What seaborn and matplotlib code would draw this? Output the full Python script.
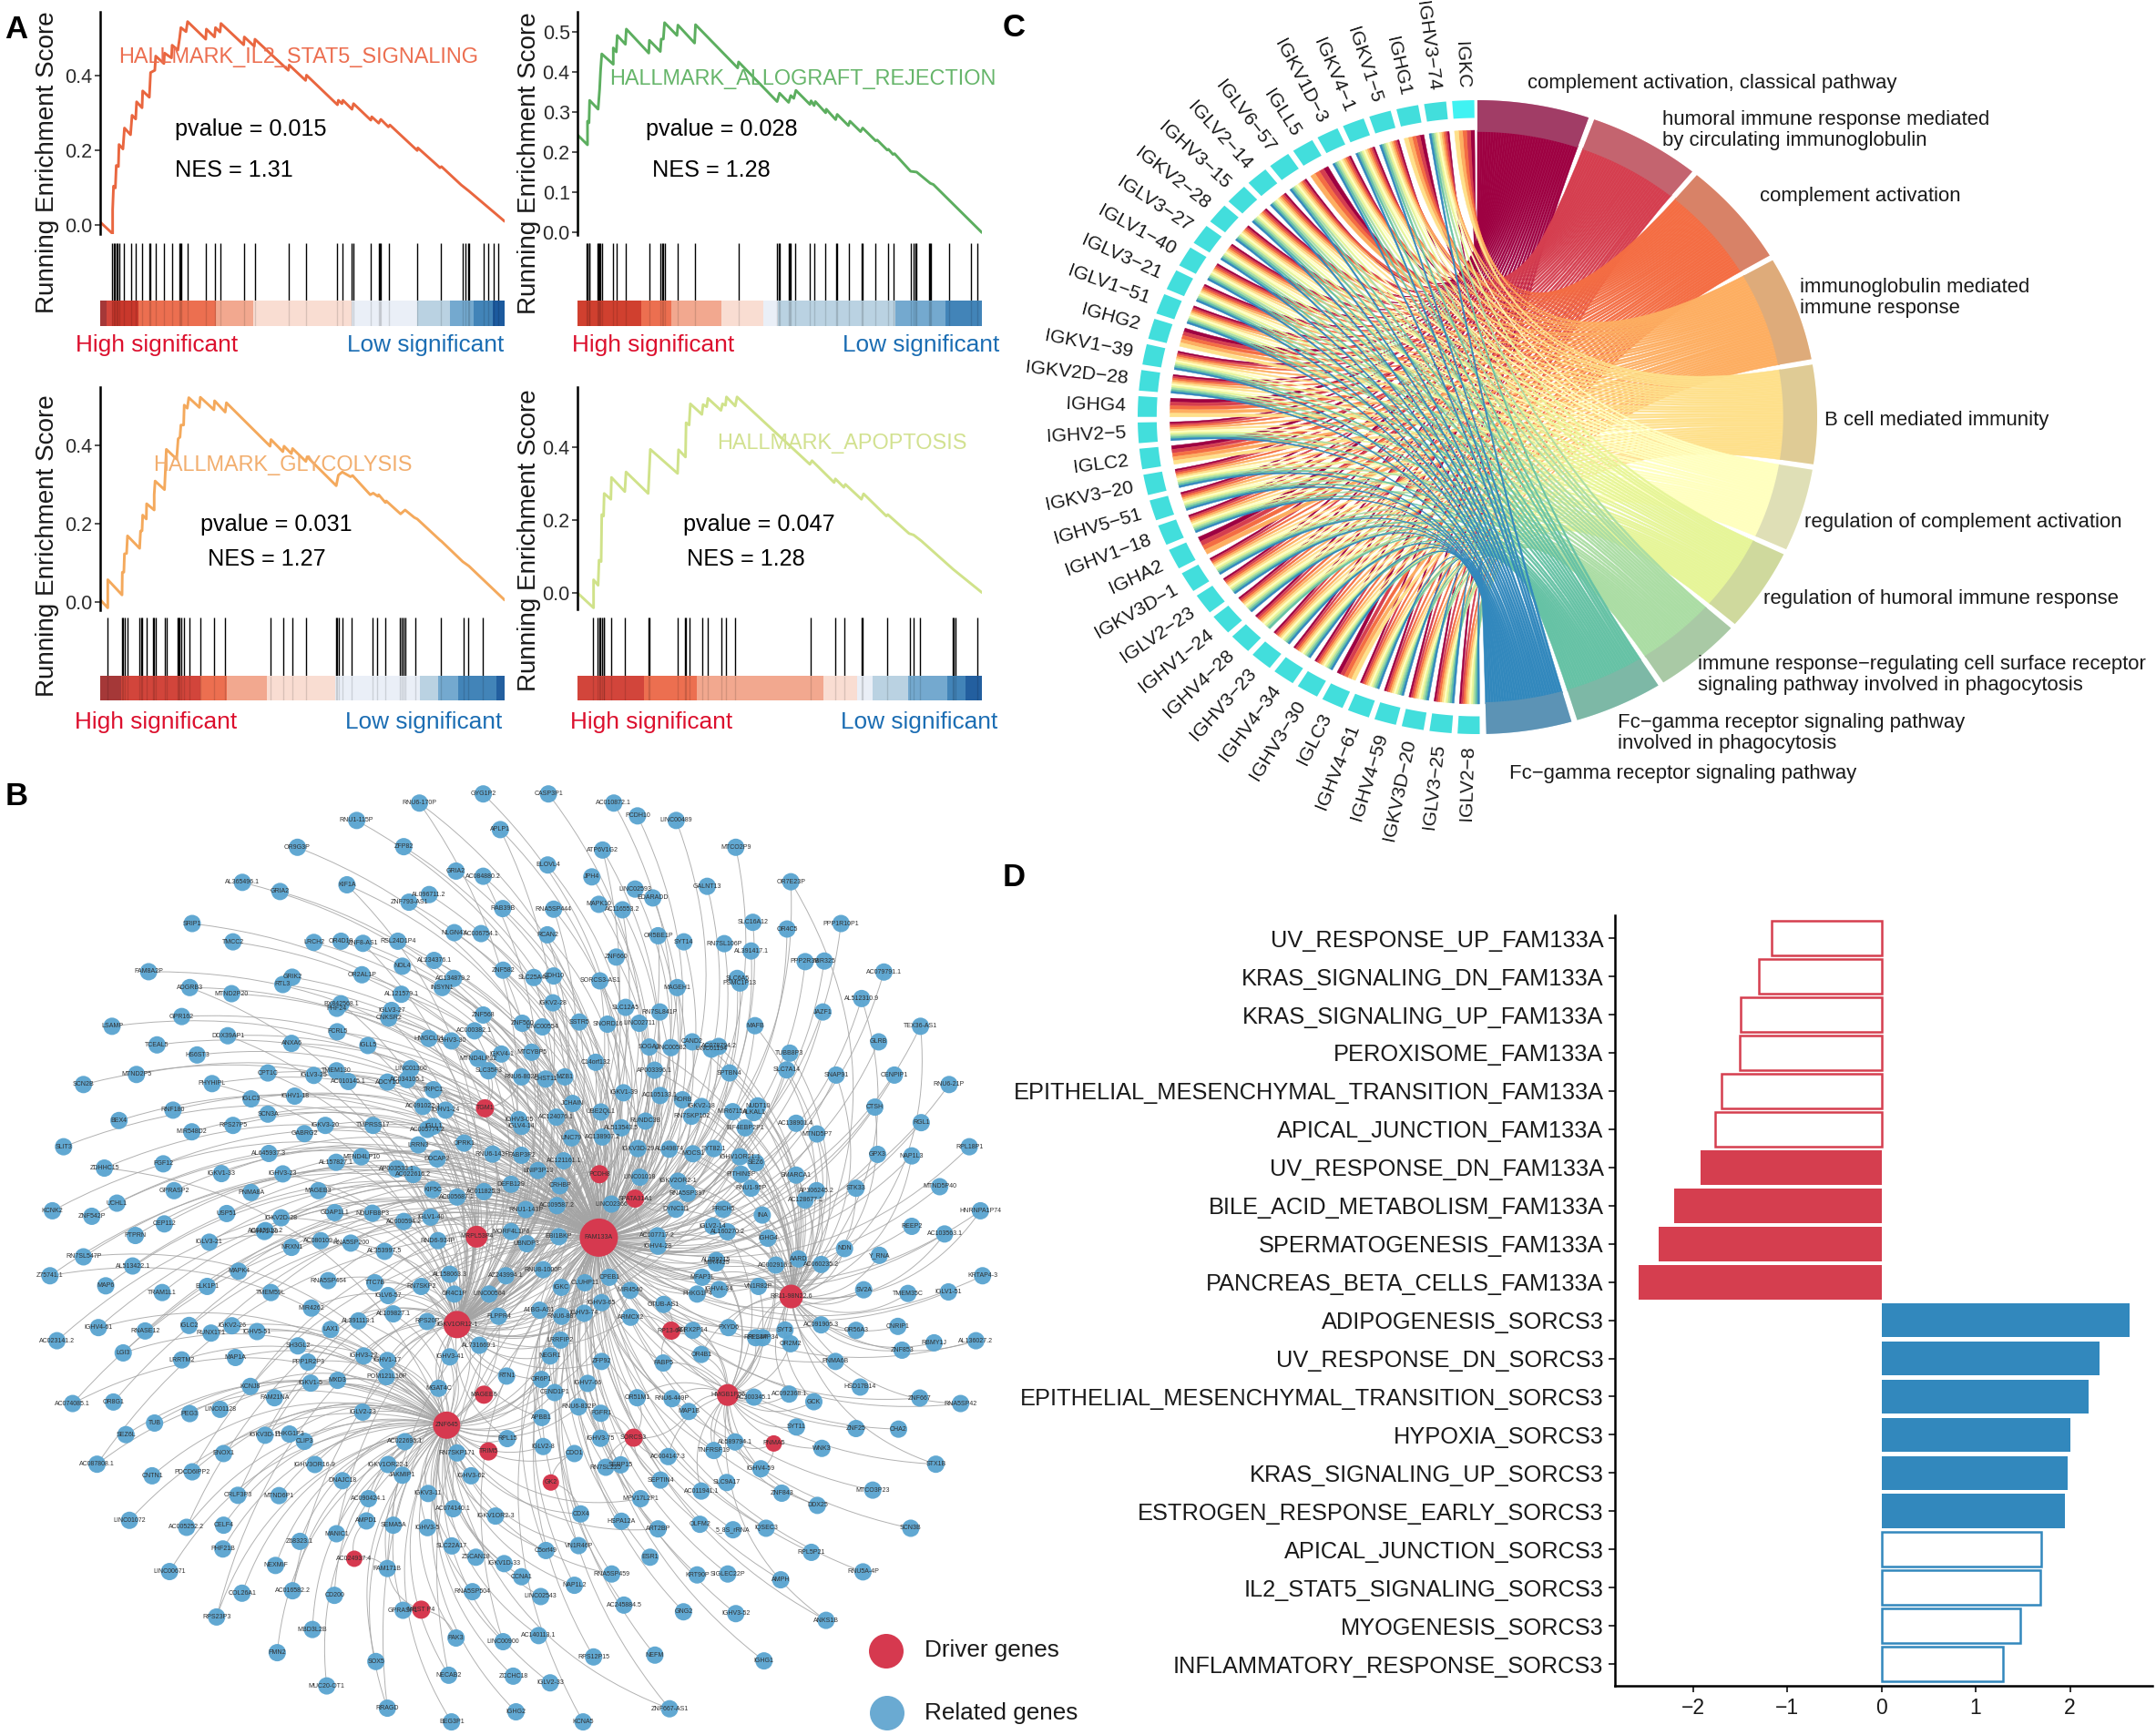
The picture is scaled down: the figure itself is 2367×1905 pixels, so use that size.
import numpy as np, pandas as pd
import matplotlib
matplotlib.use("Agg")
import matplotlib.pyplot as plt
from matplotlib.path import Path
from matplotlib.patches import PathPatch
from matplotlib.collections import LineCollection
import seaborn as sns

W, H = 2367, 1905
sns.set_theme(style="white")
plt.rcParams['font.family'] = ['Liberation Sans', 'DejaVu Sans']

# ---------- Panel A data ----------
p1_rank = [0,41,41,44,50,53,60,62,75,80,100,105,117,120,138,140,162,166,180,183,210,212,235,237,256,262,266,283,288,348,350,377,380,395,398,473,475,508,510,620,623,677,680,782,785,797,800,830,835,892,895,918,925,950,955,1045,1047,1120,1125,1190,1215,1333]
p1_es = [.008,-.023,.041,.104,.099,.159,.156,.215,.203,.259,.241,.293,.283,.329,.313,.358,.341,.407,.413,.451,.431,.459,.446,.480,.467,.500,.527,.516,.543,.496,.523,.502,.527,.515,.538,.481,.502,.477,.496,.413,.427,.386,.400,.321,.333,.324,.333,.309,.324,.280,.289,.272,.282,.262,.267,.199,.206,.153,.156,.107,.091,.010]
p1_hits = [40,44,48,53,58,62,78,102,117,138,162,166,182,210,236,260,263,266,288,348,377,396,473,510,621,678,782,800,830,835,893,918,923,926,953,1045,1123,1195,1205,1212,1217,1264,1280,1298,1312]
p1_bins = [0,20,40,125,380,505,828,1045,1152,1230,1295,1333]
p1_cols = ['#A53838','#D2453B','#C9382C','#EC6F50','#F2A88F','#F9DDD2','#EAEFF7','#BAD2E2','#74A9CF','#4284B8','#1C5A9E']

p2_rank = [0,0,33,33,38,40,68,73,76,80,118,118,128,131,158,161,235,237,273,276,283,287,328,331,386,389,528,531,658,666,696,703,713,720,766,770,780,784,818,820,851,856,893,898,933,940,983,988,1021,1025,1040,1045,1098,1118,1163,1173,1333]
p2_es = [0,.244,.219,.278,.274,.330,.308,.358,.403,.446,.420,.461,.451,.492,.470,.508,.448,.480,.452,.483,.483,.524,.492,.518,.473,.519,.411,.426,.327,.348,.325,.342,.335,.355,.320,.329,.317,.327,.299,.308,.282,.295,.267,.278,.252,.261,.229,.231,.206,.208,.195,.197,.153,.151,.123,.120,0]
p2_hits = [30,34,38,40,66,70,73,76,80,116,130,159,236,273,278,283,288,330,386,531,658,662,666,696,701,704,718,766,781,818,853,856,896,936,940,983,1023,1041,1100,1108,1113,1118,1158,1163,1166,1224,1296,1317]
p2_bins = [0,210,308,474,613,660,1048,1213,1333]
p2_cols = ['#D0402F','#EC6F50','#F2A88F','#F9DDD2','#EAEFF7','#BAD2E2','#74A9CF','#4284B8']

p3_rank = [0,25,25,72,73,78,80,87,90,130,133,138,140,152,153,178,178,181,212,218,252,257,263,266,275,277,287,292,327,330,375,377,412,416,560,563,602,606,630,634,678,682,778,785,798,825,832,890,900,915,918,940,943,990,1005,1035,1045,1120,1125,1195,1215,1333]
p3_es = [.005,-.016,.056,.017,.075,.075,.122,.123,.168,.136,.180,.181,.221,.211,.250,.234,.273,.308,.286,.389,.364,.416,.420,.451,.451,.502,.494,.521,.496,.522,.490,.513,.484,.508,.397,.414,.383,.397,.378,.391,.358,.370,.296,.323,.331,.319,.322,.273,.277,.269,.273,.253,.257,.224,.234,.215,.211,.157,.154,.102,.091,.004]
p3_hits = [25,72,76,80,90,130,134,138,153,174,178,182,213,218,254,258,262,266,277,295,329,375,412,561,604,632,680,778,782,787,800,828,897,914,941,988,995,1000,1005,1038,1123,1198,1212,1262]
p3_bins = [0,70,330,418,550,775,1055,1115,1180,1307,1333]
p3_cols = ['#A53838','#D2453B','#EC6F50','#F2A88F','#F9DDD2','#EAEFF7','#BAD2E2','#74A9CF','#4284B8','#235F9F']

p4_rank = [0,53,53,68,71,78,80,86,88,110,112,156,160,233,240,330,333,356,358,368,372,410,414,426,430,473,478,488,491,520,526,766,773,846,850,878,883,936,943,1018,1023,1093,1108,1133,1238,1333]
p4_es = [0,-.041,.036,.021,.090,.086,.215,.211,.273,.257,.317,.278,.332,.273,.394,.328,.393,.373,.467,.461,.519,.490,.517,.511,.534,.501,.519,.515,.538,.513,.538,.353,.363,.303,.313,.290,.298,.257,.272,.211,.215,.163,.159,.143,.065,.001]
p4_hits = [51,66,71,76,80,86,88,110,157,233,238,330,355,358,370,410,428,473,489,520,768,849,881,938,941,1020,1095,1108,1130,1237,1241,1245,1318]
p4_bins = [0,220,394,810,923,973,1091,1220,1278,1333]
p4_cols = ['#D2453B','#EC6F50','#F2A88F','#F9DDD2','#EAEFF7','#BAD2E2','#74A9CF','#4284B8','#235F9F']

# ---------- Panel D data ----------
pathways = ["UV_RESPONSE_UP_FAM133A","KRAS_SIGNALING_DN_FAM133A","KRAS_SIGNALING_UP_FAM133A","PEROXISOME_FAM133A",
 "EPITHELIAL_MESENCHYMAL_TRANSITION_FAM133A","APICAL_JUNCTION_FAM133A","UV_RESPONSE_DN_FAM133A","BILE_ACID_METABOLISM_FAM133A",
 "SPERMATOGENESIS_FAM133A","PANCREAS_BETA_CELLS_FAM133A","ADIPOGENESIS_SORCS3","UV_RESPONSE_DN_SORCS3",
 "EPITHELIAL_MESENCHYMAL_TRANSITION_SORCS3","HYPOXIA_SORCS3","KRAS_SIGNALING_UP_SORCS3","ESTROGEN_RESPONSE_EARLY_SORCS3",
 "APICAL_JUNCTION_SORCS3","IL2_STAT5_SIGNALING_SORCS3","MYOGENESIS_SORCS3","INFLAMMATORY_RESPONSE_SORCS3"]
nes_values = [-1.17,-1.30,-1.50,-1.51,-1.70,-1.77,-1.92,-2.20,-2.37,-2.58,2.63,2.31,2.20,2.00,1.98,1.95,1.70,1.69,1.47,1.29]
significant = [0,0,0,0,0,0,1,1,1,1,1,1,1,1,1,1,0,0,0,0]

# ---------- Panel C data ----------
gene_names = ["IGKC","IGHV3\u221274","IGHG1","IGKV1\u22125","IGKV4\u22121","IGKV1D\u22123","IGLL5","IGLV6\u221257","IGLV2\u221214","IGHV3\u221215","IGKV2\u221228","IGLV3\u221227","IGLV1\u221240","IGLV3\u221221","IGLV1\u221251","IGHG2","IGKV1\u221239","IGKV2D\u221228","IGHG4","IGHV2\u22125","IGLC2","IGKV3\u221220","IGHV5\u221251","IGHV1\u221218","IGHA2","IGKV3D\u22121","IGLV2\u221223","IGHV1\u221224","IGHV4\u221228","IGHV3\u221223","IGHV4\u221234","IGHV3\u221230","IGLC3","IGHV4\u221261","IGHV4\u221259","IGKV3D\u221220","IGLV3\u221225","IGLV2\u22128"]
term_colors = ['#9E0142','#D53E4F','#F46D43','#FDAE61','#FEE08B','#FFFFBF','#E6F598','#ABDDA4','#66C2A5','#3288BD']
constant_genes = ["IGKC","IGHG1","IGLL5","IGHG2","IGHG4","IGLC2","IGHA2","IGLC3"]
absent_term5 = ["IGLL5","IGHA2"]
absent_term10 = ["IGHV4\u221228"]

# ---------- Panel B data (layout, four views) ----------
nw = [("RNU6-170P",1125,65),("GYG1P2",1308,35),("CASP3P1",1495,35),("RNU1-115P",945,122),("APLP1",1357,152),("OR9G3P",775,210),("ZFP82",1080,208),("GRIA2",1230,288),("AC084880.2",1308,305),("ELOVL4",1493,268),("AL365496.1",617,325),("GRIA2",725,355),("KIF1A",917,333),("AL096711.2",1153,365),("ZNF793-AS1",1095,390),("RAB39B",1364,411),("RNA5SP444",1510,413),("SRIP1",473,460),("NLGN4X",1225,490),("AC006754.1",1302,493),("RCAN2",1492,497),("TMCC2",590,520),("LRCH2",822,522),("OR4D10",900,518),("ZNF8-AS1",963,525),("RSL24D1P4",1063,518),("AL234376.1",1167,581),("NOL4",1076,600),("ZNF582",1365,613),("SLC25A48",1453,637),("OR2AL1P",960,628),("AC134879.2",1223,640),("CDH10",1510,632),("FAM8A2P",348,618),("GRIK2",760,636),("RTL3",733,660),("ADGRB3",466,670),("MTND2P20",586,690),("AL121579.1",1073,692),("INSYN1",1190,670),("BX842568.1",900,723),("PHF24",888,738),("IGKV2-28",1508,720),("IGLV3-27",1045,745),("CNKSR2",1037,770),("ZNF568",1308,760),("GPR162",443,765),("LSAMP",243,797),("ZNF560",1420,787),("LINC00554",1478,799),("AC000382.1",1283,812),("FCRL5",889,815),("DDX39AP1",575,828),("ANXA6",758,853),("HMGCLL1",1152,837),("IGHV3-30",1217,845),("IGLL5",977,860),("TCEAL5",372,858),("HS6ST3",487,891),("IGKV4-1",1360,888),("MTCYBP5",1447,882),("MTND4LP32",1293,903),("TMEM130",887,943),("LINC01300",1100,936),("SLC35F3",1323,943),("RNU6-802P",1418,963),("CHST11",1487,970),("MZB1",1542,963),("CPT1C",690,950),("MTND2P5",313,955),("IGLV3-25",822,958),("SCN2B",161,988),("PHYHIPL",530,985),("AC010145.1",921,978),("ADCY10",1033,980),("AC034105.1",1090,972),("TRPC1",1165,1005),("IGHV1-18",767,1026),("IGLC3",642,1035),("AC091022.1",1135,1060),("IGHV1-24",1200,1072),("RNF180",418,1072),("SCN3A",690,1085),("BEX4",263,1106),("IGHV3-05",1410,1103),("AC124076.1",1518,1095),("RPS27P5",590,1122),("IGKV3-20",855,1122),("TMPRSS17",992,1122),("MIR548D2",472,1143),("AC005774.2",1148,1135),("IGLL1",1165,1125),("IGLV4-14",1418,1125),("GABRG2",795,1149),("SLIT3",104,1192),("LRRN3",1122,1186),("OPRK1",1253,1180),("RNU6-143P",1335,1216),("FABP3P2",1418,1220),("AL645937.3",693,1214),("ZDHHC15",221,1262),("FGF12",390,1248),("AL157827.1",886,1243),("MTND4LP10",958,1225),("DDCAP2",1176,1232),("AP003533.1",1060,1265),("BNIP3P13",1465,1270),("IGKV1-33",557,1280),("IGHV3-23",733,1281),("AC022616.2",1107,1283),("GPRASP2",421,1336),("PNMA8A",642,1342),("MAGEB3",835,1336),("KIF5C",1163,1333),("DEFB129",1388,1315),("AC011825.3",1310,1339),("AC005687.1",1233,1357),("KCNK2",72,1402),("UCHL1",257,1377),("ZNF542P",185,1420),("RNU1-143P",1430,1398),("USP51",572,1411),("GDAP1L1",882,1408),("NDUFB8P3",990,1410),("IGKV2D-28",728,1425),("AC000594.2",1080,1437),("IGLV1-40",1157,1423),("CEP112",393,1445),("MORF4L1P6",1388,1470),("PTPRN",310,1483),("AC015912.2",683,1467),("IGHV1-29",680,1470),("IGLV3-21",522,1505),("NRXN1",758,1522),("AC080109.1",842,1500),("RNA5SP200",928,1508),("RND6-934P",1178,1500),("UBNDP3",1433,1510),("EBI1BKP",1525,1487),("AL353997.5",1025,1535),("RN7SL547P",161,1553)]
ne = [("AC010872.1",193,65),("PCDH10",261,107),("LINC00489",372,122),("ATP6V1G2",161,219),("MTCO2P9",543,210),("JPH4",130,307),("GALNT13",461,338),("OR7E23P",701,323),("LINC02593",254,347),("EDARADD",305,376),("MAPK10",150,397),("AC116553.2",218,415),("SLC16A12",592,456),("OR4C5",690,478),("PPP1R10P1",845,460),("OR5BE1P",320,500),("SYT14",394,520),("RN7SL106P",510,526),("AL391417.1",587,550),("ZNF660",200,570),("PPP2R3B",742,585),("MIR325",797,583),("AC079791.1",968,619),("SORCS3-AS1",153,648),("SLC6A5",547,640),("PSMC1P13",555,655),("MAGEH1",375,670),("AL512310.9",904,706),("SLC12A5",227,735),("RN7SL841P",325,750),("JAZF1",793,750),("SSTR5",94,783),("SNORD16",175,790),("LINC02711",266,787),("MAFB",598,795),("TEX36-AS1",1073,797),("CAND2",418,848),("GLRB",953,848),("SOGA3",295,865),("LINC00582",357,867),("AC078794.2",494,863),("LINC01194",473,872),("TUBB8P3",698,885),("C14orf132",141,915),("AP003396.1",310,941),("SPTBN4",525,950),("SLC7A14",689,940),("SNAP91",831,957),("CENPIP1",998,957),("RNU6-21P",1155,988),("IGKV1-39",221,1015),("AC105133.1",326,1024),("RORB",390,1038),("IGKV2-18",445,1060),("NUDT10",606,1058),("CTSH",942,1062),("MIR6715A",534,1077),("ALKAL1",595,1080),("JCHAIN",75,1050),("UBE2QL1",156,1078),("RN7SKP102",416,1092),("RUNDC3B",284,1108),("AL513543.5",215,1130),("AC138901.4",716,1115),("EIF4EBP2P1",570,1130),("RGL1",1075,1113),("UNC79",72,1163),("AC138907.2",160,1160),("MTND5P7",776,1150),("IGKV3D-29",262,1198),("AL049874",352,1200),("MOCS1",420,1215),("SYT82.1",480,1198),("RPL18P1",1213,1192),("GPX3",950,1217),("NAP1L3",1048,1222),("IGHV1OR21-1",555,1225),("SEZ6",601,1245),("AC121161.1",49,1238),("PITHINSP",558,1282),("SMARCA1",716,1285),("LINC01018",268,1292),("IGKV2OR2-1",377,1305),("RNU1-95P",587,1328),("STK33",888,1328),("AP306245.2",775,1336),("MTND5P40",1128,1323),("CRHBP",38,1320),("RNA5SP397",405,1345),("AC128677.1",742,1367),("LINC02366",186,1380),("AC009587.2",30,1385),("DYNC1I1",371,1397),("FRICH5",507,1397),("INA",619,1416),("HNRNPA1P74",1245,1402),("REEP2",1048,1453),("IGLV2-14",477,1452),("AL160270.2",519,1471),("AC103563.1",1142,1478),("AC007717.2",318,1484),("IGHV4-28",320,1518),("IGHG4",635,1492),("NDN",855,1526),("Y_RNA",955,1548),("AARD",723,1560),("AL359215",487,1565)]
sw = [("Z75741.1",65,62),("AL513422.1",302,30),("MAP6",225,95),("MAPK4",606,47),("RNA5SP464",863,78),("TMEM59L",699,117),("ELK1P1",516,97),("TRAM1L1",387,117),("TTC7B",997,85),("RN7SKP2",1130,97),("IGLV6-57",1035,127),("AL158063.3",1212,57),("AZ243994.1",1373,62),("OR4C1P",1225,122),("LINC00564",1325,122),("RNU8-1000P",1480,42),("IGKC",1532,100),("MIR4262",815,168),("AL109827.1",1050,187),("AL391113.1",950,210),("RPS20P",1147,212),("FLPPR4",1352,195),("A1BG-AS1",1470,175),("RNU6-887",1533,195),("IGHV4-61",204,232),("RNASE12",338,243),("IGLC2",464,225),("IGKV2-26",587,226),("RUNX1T1",527,250),("IGHV5-51",659,245),("LAX1",870,238),("AC023141.2",85,275),("LGI3",275,315),("LRRFIP2",1530,273),("SH3GL2",776,292),("AL731669.1",1297,290),("IGHV3-41",1212,328),("NEGR1",1500,325),("LRRTM2",443,338),("MAP1A",597,330),("IGHV3-22",965,325),("IGHV1-17",1033,340),("PPP1R2P3",805,345),("POM121L10P",1030,393),("MXD3",890,405),("IGKV1-5",813,414),("RTN1",1375,391),("OR6P1",1475,402),("KCNJ8",640,425),("MGAT4C",1180,431),("CEND1P1",1513,445),("FAM21NA",709,462),("AC074085.1",130,481),("OR8G1",247,476),("LINC01128",553,500),("PEG3",466,514),("IGLV2-23",962,509),("APBB1",1476,527),("TUB",365,545),("SEZ6L",283,583),("IGKV3D-11",682,585),("PHKG1P3",752,581),("CLIP3",795,605),("AC022695.1",1083,606),("RPL15",1377,596),("IGLV2-8",1480,622),("RN7SKP171",1233,643),("ENOX1",563,645),("AC087808.1",200,680),("IGHV3OR16-9",825,681),("IGKV1OR22-1",1035,681),("CNTN1",358,718),("PDCD6IPP2",473,705),("JAKMIP1",1076,716),("IGHV3-62",1273,718),("DNAJC18",904,734),("CRLF3P3",604,782),("MTND6P1",722,783),("IGKV3-11",1150,776),("AC090424.1",979,793),("AC074140.1",1222,826),("IGKV1OR2-3",1343,850),("LINC01072",293,864),("CELF4",563,880),("AC005252.2",457,887),("AMPD1",973,866),("SEMA5A",1050,880),("IGHV3-5",1148,888),("MANIC1",887,908),("Z68323.1",782,933),("SLC22A17",1218,948),("PHF21B",561,958),("C5orf49",1488,963),("ZSCAN18",1287,985),("IGKV1D-33",1368,1006),("NEXMIF",712,1012),("FAM171B",1033,1022),("LINC00671",408,1032),("CCNA1",1418,1049),("COL26A1",616,1103),("AC016582.2",761,1095),("CD200",881,1110),("RNA5SP504",1277,1098),("LINC02543",1473,1114),("RPS23P3",543,1181),("GPRASP1",1078,1159),("MBD3L2B",818,1222),("PAK3",1230,1250),("LINC00900",1365,1262),("AC140113.1",1467,1242),("FMN2",717,1298),("SOX5",1000,1327),("NECAB2",1209,1372),("ZCCHC18",1394,1375),("IGLV2-33",1500,1397),("MUC20-OT1",859,1407),("RRAGD",1033,1480),("IGHG2",1402,1492),("BEG3P1",1217,1525)]
se = [("MIR4425",487,20),("AC002916.1",658,27),("AC060235.2",788,25),("MFAP3L",447,67),("KRTAP4-3",1251,62),("IGHV4-34",495,107),("VN1R82P",608,97),("PHKG1P4",432,122),("CPEB1",180,67),("CLUHP11",110,85),("MIR4540",240,110),("TMEM35C",1037,120),("IGLV1-51",1153,115),("SV2A",910,108),("OTUB-AS1",336,156),("IGHV3-65",158,150),("ARMCX2",241,198),("IGHV3-74",108,185),("AC091905.3",788,223),("OR56A3",888,241),("CNRIP1",1008,228),("PXYD6",522,232),("ATRX2P14",420,241),("SYT3",684,240),("RPL34P",600,265),("RPL34P34",620,265),("OR2M2",700,285),("ZNF853",1020,306),("RBMY1J",1112,282),("AL136027.2",1232,275),("OR4B1",444,320),("ZFP92",158,343),("FABP5",335,348),("PNMA6B",829,343),("HSD17B14",900,427),("IGHV7-66",118,415),("ZNF667",1071,463),("RNA5SP42",1188,481),("OR51M1",260,462),("RNU6-449P",360,465),("AC092368.1",696,450),("AC300345.1",595,460),("GCK",767,475),("RNU6-832P",92,492),("MAP1B",408,507),("FGFR1",156,513),("SYT11",717,558),("ZNF25",888,563),("CHA2",1010,565),("IGHV3-75",155,595),("AL589794.1",541,607),("TNFRSF19",480,635),("WNK3",790,628),("STX1B",1117,680),("AC004147.3",349,655),("RN7SL225",170,690),("SERP15",213,682),("CDO1",80,645),("IGHV4-59",615,695),("SEPTIN4",327,732),("SLC9A17",517,740),("AC011941.1",444,768),("MTCO3P23",936,765),("ZNF843",675,775),("MPV17L2P1",270,793),("DDX25",777,815),("CDX4",98,843),("HSPA12A",215,867),("OLFM2",440,877),("ART2BP",320,892),("5_8S_rRNA",535,895),("IQSEC3",630,890),("SCN3B",1045,890),("VN1R46P",92,947),("ESR1",297,985),("RPL5P21",760,969),("RNU5A-4P",908,1033),("RNA5SP459",187,1040),("KRT90P",432,1043),("SIGLEC22P",520,1040),("AMPH",672,1059),("NAP1L2",80,1077),("AC245884.5",222,1142),("GNG2",393,1164),("IGHV3-52",543,1170),("ANKS1B",802,1192),("RPS12P15",135,1312),("NEFM",311,1306),("IGHG1",624,1325),("ZNF667-AS1",353,1482),("KCNA5",105,1525)]
# drivers: label, view, x, y, radius of node in px, hub weight
drivers = [("FAM133A","ne",150,1490,21,1.0),("TGM1","nw",1313,1066,10,.25),("PCDH8","ne",152,1282,10,.3),("SPATA31A1","ne",254,1362,10,.35),
 ("MRPL53P4","nw",1289,1487,12,.45),("IGKV1OR12-1","sw",1233,222,15,.7),("RP11-98N22.6","se",702,130,13,.6),("RP13-644","se",358,242,10,.3),
 ("HMGB1P36","se",520,453,12,.55),("MAGEE6","sw",1310,452,10,.3),("ZNF645","sw",1203,552,15,.75),("TRIM5","sw",1323,638,10,.2),
 ("SORCS3","se",250,593,10,.35),("GK2","sw",1502,740,9,.0),("PNMA5","se",652,612,9,.0),("AC024937.4","sw",938,990,9,.0),("MEST P4","sw",1130,1157,10,.0)]

VIEW = {"nw":(30,860),"ne":(600,860),"sw":(30,1380),"se":(600,1380)}
SX, SY = 1568/600, 1568/525

fig = plt.figure(figsize=(W/100, H/100), dpi=100, facecolor='white')

def axpx(x0, y0, x1, y1, **k):
    return fig.add_axes([x0/W, 1-y1/H, (x1-x0)/W, (y1-y0)/H], **k)

def tx(x, y, s, **k):
    k.setdefault('ha','center'); k.setdefault('va','center')
    return fig.text(x/W, 1-y/H, s, **k)

# ---------- Panel A ----------
RED, BLUE = '#DC0F2D', '#1B6DB3'
panels = [
 dict(rank=p1_rank, es=p1_es, hits=p1_hits, bins=p1_bins, cols=p1_cols, box=(110,554), ytop=13, ybot=257, rug=(267,330), bar=358,
      ylim=(-.024,.569), ticks=[0,.2,.4], color='#E9663F', name='HALLMARK_IL2_STAT5_SIGNALING', nx=328, ny=62, p='pvalue = 0.015', px=275, py=142,
      n='NES = 1.31', nex=257, ney=187, hi=172, lo=467, ty=379, lx=52, ly=178, tc='#EC6E50'),
 dict(rank=p2_rank, es=p2_es, hits=p2_hits, bins=p2_bins, cols=p2_cols, box=(634,1078), ytop=13, ybot=258, rug=(267,330), bar=358,
      ylim=(-.006,.551), ticks=[0,.1,.2,.3,.4,.5], color='#5CAE5F', name='HALLMARK_ALLOGRAFT_REJECTION', nx=881, ny=86, p='pvalue = 0.028', px=792, py=142,
      n='NES = 1.28', nex=781, ney=187, hi=717, lo=1011, ty=379, lx=581, ly=179, tc='#66B56A'),
 dict(rank=p3_rank, es=p3_es, hits=p3_hits, bins=p3_bins, cols=p3_cols, box=(110,554), ytop=425, ybot=670, rug=(678,742), bar=769,
      ylim=(-.022,.548), ticks=[0,.2,.4], color='#F4A95C', name='HALLMARK_GLYCOLYSIS', nx=310, ny=511, p='pvalue = 0.031', px=303, py=576,
      n='NES = 1.27', nex=293, ney=614, hi=171, lo=465, ty=793, lx=52, ly=599, tc='#F2AE6E'),
 dict(rank=p4_rank, es=p4_es, hits=p4_hits, bins=p4_bins, cols=p4_cols, box=(634,1078), ytop=425, ybot=669, rug=(678,742), bar=769,
      ylim=(-.045,.565), ticks=[0,.2,.4], color='#D0E28A', name='HALLMARK_APOPTOSIS', nx=924, ny=487, p='pvalue = 0.047', px=833, py=576,
      n='NES = 1.28', nex=819, ney=614, hi=715, lo=1009, ty=793, lx=581, ly=593, tc='#D2E190'),
]
for P in panels:
    x0, x1 = P['box']
    a = axpx(x0, P['ytop'], x1, P['ybot'])
    sns.lineplot(x=P['rank'], y=P['es'], sort=False, estimator=None, color=P['color'], lw=2.1, ax=a)
    a.set_xlim(0, 1333); a.set_ylim(*P['ylim'])
    a.set_xticks([]); a.set_yticks(P['ticks'])
    a.set_yticklabels([f'{t:.1f}' for t in P['ticks']])
    a.tick_params(axis='y', left=True, length=4, width=1.2, labelsize=15.5, labelcolor='#2b2b2b', pad=2, color='#333333')
    sns.despine(ax=a, bottom=True)
    a.spines['left'].set_linewidth(1.8); a.spines['left'].set_color('black')
    a.patch.set_alpha(0)
    r = axpx(x0, P['rug'][0], x1, P['rug'][1])
    sns.rugplot(x=P['hits'], height=1.0, color='black', lw=1.6, ax=r, expand_margins=False)
    r.set_xlim(0, 1333); r.set_ylim(0, 1); r.axis('off')
    b = axpx(x0, P['rug'][1], x1, P['bar'])
    for i, c in enumerate(P['cols']):
        b.axvspan(P['bins'][i], P['bins'][i+1], color=c, lw=0)
    sns.rugplot(x=P['hits'], height=1.0, color='black', lw=1.6, alpha=.13, ax=b, expand_margins=False)
    b.set_xlim(0, 1333); b.set_ylim(0, 1); b.axis('off')
    tx(P['nx'], P['ny'], P['name'], fontsize=16.9, color=P['tc'])
    tx(P['px'], P['py'], P['p'], fontsize=18.2, color='black')
    tx(P['nex'], P['ney'], P['n'], fontsize=18.2, color='black')
    tx(P['hi'], P['ty'], 'High significant', fontsize=18.9, color=RED)
    tx(P['lo'], P['ty'], 'Low significant', fontsize=18.9, color=BLUE)
    tx(P['lx'], P['ly'], 'Running Enrichment Score', fontsize=20.1, rotation=90, color='#1a1a1a')

# ---------- Panel B ----------
ax = axpx(0, 860, 1220, 1905)
ax.set_xlim(0, 1220); ax.set_ylim(1905, 860); ax.axis('off')

def to_layout(view, x, y):
    ox, oy = VIEW[view]
    return ox + x/SX, oy + y/SY

rel = []
for v, lst in (("nw",nw),("ne",ne),("sw",sw),("se",se)):
    for lab, x, y in lst:
        X, Y = to_layout(v, x, y)
        rel.append((lab, X, Y))
rel_df = pd.DataFrame(rel, columns=['gene','x','y'])
drv = pd.DataFrame([(d[0],)+to_layout(d[1],d[2],d[3])+(d[4],d[5]) for d in drivers], columns=['gene','x','y','r','w'])

hubs = drv[drv.w > 0].reset_index(drop=True)
hx, hy, hw = hubs.x.values, hubs.y.values, hubs.w.values
segs = []
def arc(p0, p1, k=.3):
    p0, p1 = np.array(p0), np.array(p1)
    d = p1-p0
    c = (p0+p1)/2 + k*np.array([d[1], -d[0]])
    t = np.linspace(0, 1, 30)[:, None]
    return (1-t)**2*p0 + 2*t*(1-t)*c + t**2*p1
for i, row in rel_df.iterrows():
    dist = np.hypot(hx-row.x, hy-row.y)
    order = np.argsort(dist/hw**1.6)
    segs.append(arc((row.x,row.y), (hx[order[0]],hy[order[0]])))
    fam = np.hypot(row.x-hx[0], row.y-hy[0])
    if i % 4 == 0 or fam < 300:
        segs.append(arc((row.x,row.y), (hx[order[1]],hy[order[1]])))
    if fam < 220 and i % 2 == 1:
        segs.append(arc((row.x,row.y), (hx[order[2]],hy[order[2]])))
for _, row in drv[drv.w == 0].iterrows():
    dist = np.hypot(rel_df.x-row.x, rel_df.y-row.y)
    near = np.argsort(dist.values)[1:3]
    for n in near:
        segs.append(arc((row.x,row.y), (rel_df.x[n],rel_df.y[n]), .3))
ax.add_collection(LineCollection(segs, colors='#a4a4a4', linewidths=.7, alpha=.85, zorder=1))
sns.scatterplot(data=rel_df, x='x', y='y', s=188, color='#5AA5D1', edgecolor='none', alpha=.96, zorder=2, ax=ax, legend=False)
sns.scatterplot(data=drv, x='x', y='y', s=(2*drv.r.values*.72)**2, color='#D6394F', edgecolor='none', zorder=3, ax=ax, legend=False)
ax.set_xlim(0, 1220); ax.set_ylim(1905, 860)
for d in (rel_df, drv):
    for _, row in d.iterrows():
        ax.text(row.x, row.y, row.gene, fontsize=5, ha='center', va='center', color='#303030', zorder=4)
sns.scatterplot(x=[973,974], y=[1813,1881], s=[(38*.72)**2]*2, hue=['d','r'], palette={'d':'#D6394F','r':'#6AAAD2'},
                edgecolor='none', ax=ax, legend=False, clip_on=False)
ax.set_xlim(0, 1220); ax.set_ylim(1905, 860)
tx(1015, 1812, 'Driver genes', fontsize=18.8, ha='left', color='#1a1a1a')
tx(1015, 1881, 'Related genes', fontsize=18.8, ha='left', color='#1a1a1a')

# ---------- Panel C ----------
CX, CY, RX, RY = 1622, 458, 373, 348
c = axpx(CX-RX, CY-RY, CX+RX, CY+RY)
c.set_xlim(-1, 1); c.set_ylim(-1, 1); c.axis('off')
def pol(a, r):
    a = np.radians(a)
    return np.array([r*np.cos(a), r*np.sin(a)])
def ring(a0, a1, r0, r1, color, **k):
    th = np.radians(np.linspace(a0, a1, 40))
    xs = np.r_[r1*np.cos(th), r0*np.cos(th[::-1])]
    ys = np.r_[r1*np.sin(th), r0*np.sin(th[::-1])]
    c.fill(xs, ys, color=color, lw=0, clip_on=False, **k)

n_terms = len(term_colors)
members = []
for t in range(n_terms):
    if t < 4:
        m = list(gene_names)
    elif t == 4:
        m = [g for g in gene_names if g not in absent_term5]
    else:
        m = [g for g in gene_names if g not in constant_genes]
        if t == 9:
            m = [g for g in m if g not in absent_term10]
    members.append(m)
GAP = 1.0
unit = (178.5-(n_terms-1)*GAP)/sum(len(m) for m in members)
gene_angle = {g: 92.4+4.76*i for i, g in enumerate(gene_names)}
GENE_W = 3.75
gene_terms = {g: [t for t in range(n_terms) if g in members[t]] for g in gene_names}
R_IN = .905
start = 90.0
for t in range(n_terms):
    m = members[t]
    span = unit*len(m)
    for j, g in enumerate(m):
        t_hi = start - j*unit
        t_lo = t_hi - unit
        ts = gene_terms[g]
        w = GENE_W/len(ts)
        g_lo = gene_angle[g]-GENE_W/2 + ts.index(t)*w
        g_hi = g_lo + w
        verts = [pol(g_lo,R_IN), pol(g_hi,R_IN), (0,0), pol(t_lo,R_IN), pol(t_hi,R_IN), (0,0), pol(g_lo,R_IN), pol(g_lo,R_IN)]
        codes = [Path.MOVETO, Path.LINETO, Path.CURVE3, Path.CURVE3, Path.LINETO, Path.CURVE3, Path.CURVE3, Path.CLOSEPOLY]
        c.add_patch(PathPatch(Path(verts, codes), fc=term_colors[t], ec=term_colors[t], lw=.35))
    ring(start-span, start, R_IN-.005, 1.0, term_colors[t])
    ring(start-span, start, .9, 1.0, '#A8A8A8', alpha=.36)
    start -= span + GAP
for i, g in enumerate(gene_names):
    a = gene_angle[g]
    ring(a-GENE_W/2, a+GENE_W/2, .944, 1.0, '#42DEDC' if i else '#40F2F2')
    p = pol(a, 1.036)
    rot = np.degrees(np.arctan2(RY*np.sin(np.radians(a)), RX*np.cos(np.radians(a)))) - 180
    c.text(p[0], p[1], g, rotation=rot, rotation_mode='anchor', ha='right', va='center', fontsize=15.2, color='#1a1a1a', clip_on=False)
term_labels = [("complement activation, classical pathway",1677,92),("humoral immune response mediated\nby circulating immunoglobulin",1825,143),
 ("complement activation",1932,215),("immunoglobulin mediated\nimmune response",1976,327),("B cell mediated immunity",2003,461),
 ("regulation of complement activation",1981,573),("regulation of humoral immune response",1936,658),
 ("immune response\u2212regulating cell surface receptor\nsignaling pathway involved in phagocytosis",1864,741),
 ("Fc\u2212gamma receptor signaling pathway\ninvolved in phagocytosis",1776,805),("Fc\u2212gamma receptor signaling pathway",1657,850)]
for s, x, y in term_labels:
    tx(x, y, s, ha='left', fontsize=15.95, color='#1a1a1a', linespacing=1.14)

# ---------- Panel D ----------
d = axpx(1773, 1005, 2363, 1851)
df = pd.DataFrame({'pathway':pathways, 'nes':nes_values, 'sig':significant})
for (pos, sig), sub in df.groupby([df.nes > 0, 'sig']):
    sns.barplot(data=sub, y='pathway', x='nes', order=pathways, orient='h', color='#3288BD' if pos else '#D53E4F',
                fill=bool(sig), width=.9, saturation=1, linewidth=1.8 if not sig else 0, errorbar=None, ax=d)
d.set_xlim(-2.83, 2.875); d.set_ylim(19.57, -.6)
d.set_xlabel(''); d.set_ylabel('')
d.set_xticks([-2,-1,0,1,2]); d.set_xticklabels(['\u22122','\u22121','0','1','2'])
d.tick_params(axis='both', bottom=True, left=True, length=5, width=1.4, color='#333333', labelcolor='#1a1a1a', pad=4)
d.tick_params(axis='y', labelsize=18.3); d.tick_params(axis='x', labelsize=16.5)
sns.despine(ax=d)
for s in ('left','bottom'):
    d.spines[s].set_linewidth(1.8); d.spines[s].set_color('black')

# ---------- Panel letters ----------
for s, x, y in (("A",18,33),("B",18,874),("C",1113,30),("D",1113,963)):
    tx(x, y, s, fontsize=25, fontweight='bold', color='black')

fig.savefig('out.png', dpi=100, facecolor='white')
